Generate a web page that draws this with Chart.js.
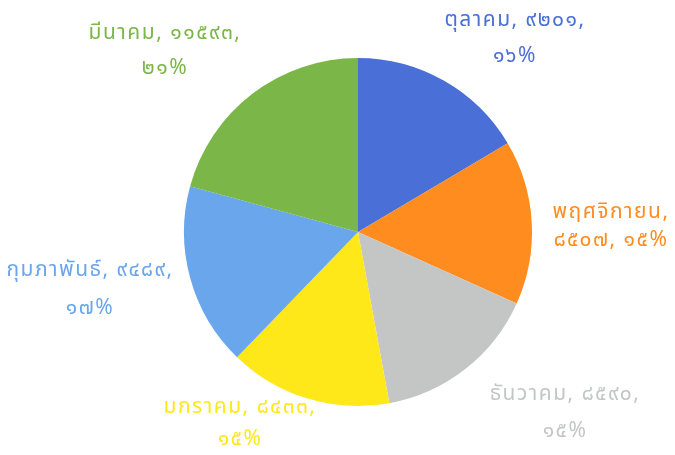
<!DOCTYPE html>
<html lang="th">
<head>
    <meta charset="UTF-8">
    <title>แผนภูมิวงกลม</title>
    <script src="https://cdn.jsdelivr.net/npm/chart.js"></script>
    <style>
        html, body { margin: 0; padding: 0; background: #fff; }
        #wrap { width: 675px; height: 455px; }
    </style>
</head>
<body>
    <div id="wrap"><canvas id="chart" width="675" height="455"></canvas></div>
    <script>
        // ข้อมูล (ตามลำดับตามเข็มนาฬิกาจากด้านบน)
        const MONTHS = ['ตุลาคม', 'พฤศจิกายน', 'ธันวาคม', 'มกราคม', 'กุมภาพันธ์', 'มีนาคม']
        const VALUES = [9201, 8507, 8590, 8433, 9489, 11593]
        const COLORS = ['#4a6fd6', '#ff8c1e', '#c4c6c6', '#ffe81a', '#6aa6ec', '#7ab648']

        const thaiDigits = '๐๑๒๓๔๕๖๗๘๙'
        const toThai = n => String(n).replace(/[0-9]/g, d => thaiDigits[d])

        // ตำแหน่งป้ายเทียบกับจุดศูนย์กลางของวงกลม (px)
        const LABEL_POS = [
            { dx: 157, dy: -192, gap: 36 },
            { dx: 253, dy: -4, gap: 28 },
            { dx: 207, dy: 182, gap: 37 },
            { dx: -118, dy: 193, gap: 32 },
            { dx: -268, dy: 59, gap: 38 },
            { dx: -193, dy: -180, gap: 35 }
        ]

        const outLabels = {
            id: 'outLabels',
            afterDatasetsDraw(chart) {
                const ctx = chart.ctx
                const meta = chart.getDatasetMeta(0)
                const data = chart.data.datasets[0].data
                const total = data.reduce((a, b) => a + b, 0)
                ctx.save()
                ctx.font = '21px "Noto Sans Thai", "Noto Sans", Tahoma, sans-serif'
                ctx.letterSpacing = '1.5px'
                ctx.textAlign = 'center'
                ctx.textBaseline = 'middle'
                meta.data.forEach((arc, i) => {
                    const p = LABEL_POS[i]
                    const x = arc.x + p.dx
                    const y = arc.y + p.dy
                    const pct = Math.round(data[i] / total * 100)
                    let l1, l2
                    if (i === 1) {
                        l1 = MONTHS[i] + ','
                        l2 = toThai(data[i]) + ', ' + toThai(pct) + '%'
                    } else {
                        l1 = MONTHS[i] + ', ' + toThai(data[i]) + ','
                        l2 = toThai(pct) + '%'
                    }
                    ctx.fillStyle = COLORS[i]
                    ctx.fillText(l1, x, y - p.gap / 2)
                    ctx.fillText(l2, x, y + p.gap / 2)
                })
                ctx.restore()
            }
        }

        new Chart(document.getElementById('chart'), {
            type: 'pie',
            data: {
                labels: MONTHS,
                datasets: [{
                    data: VALUES,
                    backgroundColor: COLORS,
                    borderWidth: 0
                }]
            },
            options: {
                responsive: false,
                animation: false,
                layout: { padding: { top: 58, bottom: 49, left: 184, right: 143 } },
                plugins: {
                    legend: { display: false },
                    tooltip: { enabled: false }
                }
            },
            plugins: [outLabels]
        })
    </script>
</body>
</html>
